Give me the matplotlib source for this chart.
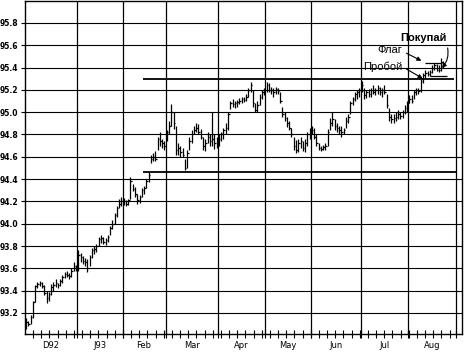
import numpy as np
import matplotlib.pyplot as plt

# months on the x axis and number of trading days in each
months = ["D92", "J93", "Feb", "Mar", "Apr", "May", "Jun", "Jul", "Aug"]
month_days = [23, 20, 19, 23, 21, 20, 22, 21, 21]

# daily bars: high, low, close
highs = [93.15, 93.13, 93.18, 93.31, 93.45, 93.48, 93.49, 93.48, 93.45, 93.40,
         93.39, 93.46, 93.48, 93.50, 93.47, 93.50, 93.54, 93.57, 93.58, 93.56,
         93.60, 93.66, 93.63, 93.76, 93.74, 93.71, 93.69, 93.68, 93.72, 93.78,
         93.80, 93.82, 93.88, 93.90, 93.88, 93.87, 93.90, 93.98, 94.03, 94.10,
         94.16, 94.22, 94.24, 94.23, 94.21, 94.22, 94.42, 94.36, 94.33, 94.27,
         94.26, 94.32, 94.34, 94.40, 94.46, 94.62, 94.63, 94.65, 94.78, 94.82,
         94.76, 94.74, 94.84, 94.92, 95.07, 95.00, 94.88, 94.72, 94.70, 94.68,
         94.58, 94.66, 94.78, 94.84, 94.88, 94.90, 94.89, 94.85, 94.78, 94.76,
         94.82, 94.80, 95.00, 94.80, 94.78, 94.80, 94.82, 94.86, 94.90, 95.00,
         95.10, 95.12, 95.10, 95.11, 95.13, 95.14, 95.14, 95.16, 95.22, 95.27,
         95.20, 95.08, 95.10, 95.16, 95.20, 95.22, 95.27, 95.26, 95.23, 95.22,
         95.23, 95.22, 95.18, 95.05, 95.00, 94.96, 94.92, 94.86, 94.78, 94.75,
         94.76, 94.78, 94.74, 94.76, 94.82, 94.86, 94.88, 94.86, 94.80, 94.72,
         94.70, 94.71, 94.72, 94.85, 94.95, 95.00, 94.94, 94.90, 94.88, 94.88,
         94.86, 94.96, 94.98, 95.10, 95.14, 95.18, 95.20, 95.22, 95.28, 95.22,
         95.20, 95.21, 95.22, 95.24, 95.22, 95.24, 95.23, 95.22, 95.24, 95.16,
         95.04, 94.98, 94.98, 95.00, 95.02, 95.00, 95.02, 95.06, 95.10, 95.15,
         95.15, 95.20, 95.22, 95.22, 95.30, 95.35, 95.38, 95.37, 95.38, 95.42,
         95.44, 95.43, 95.42, 95.49, 95.46]
lows = [93.06, 93.08, 93.10, 93.15, 93.30, 93.42, 93.44, 93.42, 93.36, 93.29,
        93.31, 93.36, 93.40, 93.43, 93.42, 93.44, 93.47, 93.51, 93.52, 93.50,
        93.52, 93.58, 93.58, 93.58, 93.66, 93.64, 93.62, 93.57, 93.62, 93.69,
        93.73, 93.75, 93.80, 93.83, 93.82, 93.81, 93.84, 93.90, 93.95, 94.00,
        94.06, 94.14, 94.16, 94.17, 94.16, 94.17, 94.22, 94.29, 94.24, 94.18,
        94.19, 94.24, 94.27, 94.32, 94.37, 94.54, 94.56, 94.56, 94.66, 94.70,
        94.68, 94.66, 94.74, 94.80, 94.88, 94.85, 94.62, 94.62, 94.60, 94.60,
        94.48, 94.50, 94.66, 94.72, 94.80, 94.82, 94.80, 94.76, 94.66, 94.65,
        94.72, 94.70, 94.70, 94.67, 94.68, 94.70, 94.74, 94.76, 94.80, 94.84,
        95.03, 95.05, 95.04, 95.05, 95.07, 95.08, 95.09, 95.10, 95.14, 95.18,
        95.05, 95.00, 95.00, 95.06, 95.12, 95.15, 95.18, 95.18, 95.16, 95.14,
        95.16, 95.16, 95.08, 94.96, 94.92, 94.87, 94.84, 94.78, 94.66, 94.63,
        94.64, 94.68, 94.65, 94.64, 94.70, 94.76, 94.80, 94.76, 94.70, 94.66,
        94.65, 94.66, 94.66, 94.70, 94.84, 94.88, 94.84, 94.82, 94.80, 94.78,
        94.80, 94.86, 94.90, 94.98, 95.06, 95.10, 95.12, 95.14, 95.18, 95.12,
        95.13, 95.14, 95.14, 95.16, 95.15, 95.16, 95.15, 95.14, 95.16, 95.04,
        94.92, 94.90, 94.90, 94.92, 94.94, 94.94, 94.95, 94.98, 95.00, 95.08,
        95.08, 95.12, 95.15, 95.16, 95.18, 95.26, 95.31, 95.32, 95.32, 95.35,
        95.38, 95.37, 95.36, 95.37, 95.40]
closes = [93.12, 93.10, 93.16, 93.30, 93.44, 93.46, 93.47, 93.44, 93.38, 93.33,
          93.37, 93.43, 93.45, 93.47, 93.45, 93.49, 93.52, 93.55, 93.54, 93.53,
          93.58, 93.62, 93.60, 93.72, 93.70, 93.67, 93.66, 93.60, 93.70, 93.76,
          93.77, 93.80, 93.86, 93.87, 93.84, 93.85, 93.88, 93.96, 94.00, 94.08,
          94.14, 94.18, 94.20, 94.20, 94.18, 94.21, 94.38, 94.31, 94.27, 94.21,
          94.24, 94.30, 94.32, 94.38, 94.44, 94.58, 94.60, 94.58, 94.76, 94.74,
          94.72, 94.70, 94.82, 94.88, 95.00, 94.90, 94.66, 94.68, 94.64, 94.62,
          94.50, 94.63, 94.74, 94.80, 94.84, 94.86, 94.82, 94.78, 94.70, 94.72,
          94.78, 94.74, 94.76, 94.72, 94.75, 94.76, 94.80, 94.84, 94.86, 94.98,
          95.08, 95.07, 95.08, 95.09, 95.10, 95.12, 95.11, 95.14, 95.20, 95.24,
          95.08, 95.02, 95.06, 95.14, 95.18, 95.20, 95.24, 95.20, 95.20, 95.18,
          95.21, 95.19, 95.10, 94.98, 94.95, 94.90, 94.86, 94.80, 94.70, 94.66,
          94.72, 94.74, 94.68, 94.72, 94.80, 94.82, 94.84, 94.78, 94.72, 94.68,
          94.67, 94.69, 94.70, 94.82, 94.90, 94.94, 94.88, 94.86, 94.84, 94.82,
          94.84, 94.92, 94.96, 95.08, 95.12, 95.16, 95.18, 95.20, 95.24, 95.15,
          95.18, 95.16, 95.20, 95.18, 95.20, 95.22, 95.18, 95.20, 95.18, 95.06,
          94.96, 94.94, 94.95, 94.96, 94.98, 94.97, 95.00, 95.04, 95.08, 95.12,
          95.10, 95.18, 95.20, 95.19, 95.28, 95.33, 95.35, 95.34, 95.36, 95.40,
          95.42, 95.38, 95.38, 95.45, 95.43]

# trend lines (level, first bar, last bar)
resistance = 95.30
support = 94.46
lines_start = 51.5
resistance_end = 188.6
support_end = 189.5
flag_top = 95.44
flag_bottom = 95.32

yticks = [93.2, 93.4, 93.6, 93.8, 94.0, 94.2, 94.4, 94.6, 94.8, 95.0, 95.2,
          95.4, 95.6, 95.8]

fig = plt.figure(figsize=(4.66, 3.53), dpi=100)
ax = fig.add_axes([25 / 466, 19 / 353, 437 / 466, 333 / 353])

x = np.arange(len(closes))
ax.vlines(x, lows, highs, color='black', linewidth=0.9)
ax.hlines(closes, x, x + 0.7, color='black', linewidth=0.9)

# support / resistance
ax.hlines(resistance, lines_start, resistance_end, color='black', linewidth=1.3)
ax.hlines(support, lines_start, support_end, color='black', linewidth=1.3)
ax.hlines(flag_top, 175.9, 183.4, color='black', linewidth=0.9)
ax.hlines(flag_bottom, 178.0, 185.6, color='black', linewidth=0.9)

# month separators
bounds = np.cumsum(month_days) - 0.5
centers = bounds - np.array(month_days) / 2
for b in bounds:
    ax.axvline(b, color='black', linewidth=0.9, zorder=0)

ax.set_xlim(-0.5, 192.2)
ax.set_ylim(93.011, 95.997)
ax.set_yticks(yticks)
ax.set_yticklabels([f"{v:.1f}" for v in yticks], fontsize=5.5, fontweight='bold')
ax.grid(axis='y', color='black', linewidth=0.8, zorder=0)

weekly = np.arange(3.1, 190, 3.6)
ax.set_xticks(np.concatenate([weekly, bounds]))
ax.set_xticklabels([])
ax.set_xticks(centers, minor=True)
ax.set_xticklabels(months, minor=True, fontsize=6)
ax.tick_params(axis='x', which='major', direction='inout', length=6, width=0.8)
ax.tick_params(axis='x', which='minor', length=0, pad=5)
ax.tick_params(axis='y', length=3, width=0.8, pad=2)
for s in ax.spines.values():
    s.set_linewidth(1.0)

fnt = ['Liberation Sans Narrow', 'Liberation Sans', 'DejaVu Sans']
ax.text(175.0, 95.665, "Покупай", fontsize=8, fontweight='bold', family=fnt,
        ha='center', va='center')
ax.text(165.7, 95.558, "Флаг", fontsize=8, family=fnt, ha='right', va='center')
ax.text(165.7, 95.405, "Пробой", fontsize=8, family=fnt, ha='right', va='center')

arrow = dict(arrowstyle='-|>', color='black', linewidth=0.8, mutation_scale=6)
ax.annotate("", xy=(175.4, 95.45), xytext=(166.6, 95.54), arrowprops=arrow)
ax.annotate("", xy=(175.9, 95.29), xytext=(166.6, 95.40), arrowprops=arrow)
ax.annotate("", xy=(182.5, 95.38), xytext=(185.6, 95.60),
            arrowprops=dict(arrow, connectionstyle='arc3,rad=-0.3'))

fig.savefig("out.png", dpi=100)
